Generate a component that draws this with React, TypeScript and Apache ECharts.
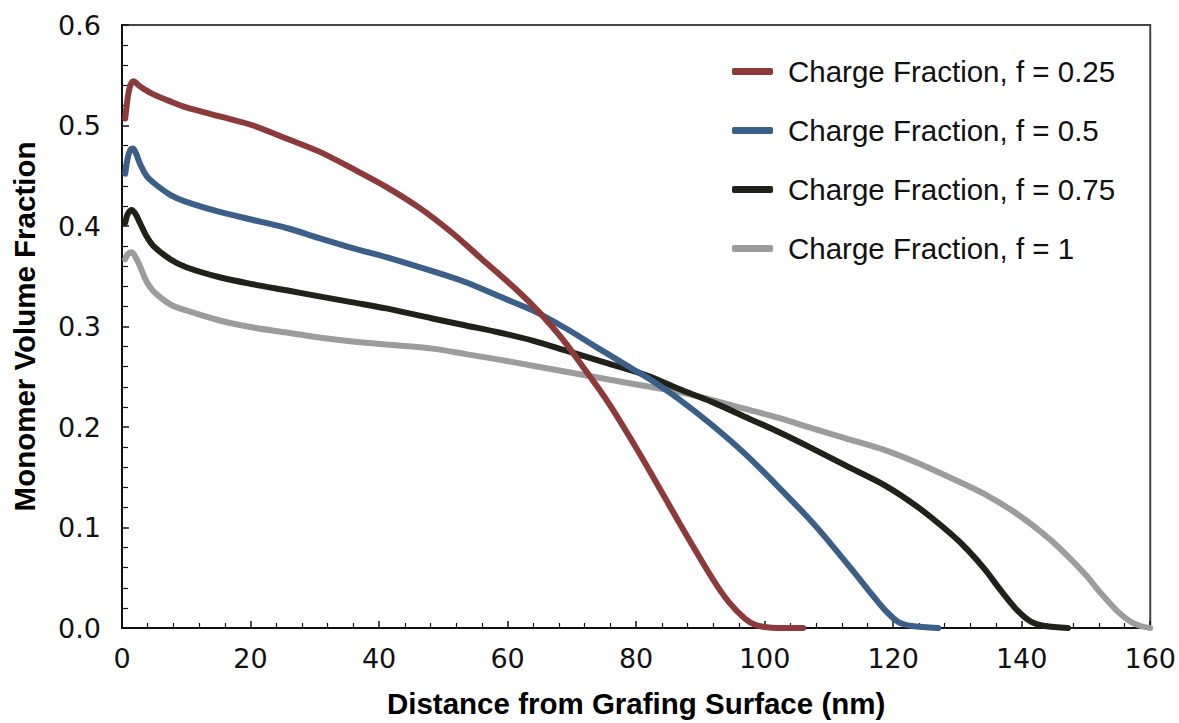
import React, { useEffect, useRef } from "react";
import * as echarts from "echarts";

// Distance from the grafting surface (nm) and monomer volume fraction, per charge fraction
const xF025 = [0.5, 0.9, 1.3, 1.8, 2.6, 3.5, 4.9, 7.5, 10, 15.2, 20.4, 25.6, 30.7, 35.9, 41.1, 46.3, 51.4, 56, 58.7, 61.3, 63.9, 66.5, 69.1, 71.6, 74.2, 76.3, 78.9, 81.5, 86.6, 91.8, 94.4, 97, 98.6, 100, 102, 106];
const yF025 = [0.507, 0.528, 0.54, 0.544, 0.54, 0.536, 0.531, 0.524, 0.518, 0.509, 0.5, 0.487, 0.474, 0.457, 0.439, 0.418, 0.393, 0.367, 0.352, 0.337, 0.321, 0.303, 0.283, 0.261, 0.238, 0.218, 0.191, 0.163, 0.106, 0.05, 0.026, 0.009, 0.003, 0.001, 0, 0];

const xF05 = [0.5, 0.9, 1.3, 1.7, 2.2, 2.8, 3.8, 4.9, 7.5, 10, 15.2, 20.4, 25.6, 30.7, 35.9, 41.1, 48.3, 53.5, 58.7, 63.9, 69.1, 74.2, 79.4, 82.5, 86.6, 91.8, 97, 102.2, 107.3, 110, 113.6, 116.1, 118.7, 120.8, 122.9, 127];
const yF05 = [0.452, 0.468, 0.476, 0.477, 0.472, 0.462, 0.45, 0.443, 0.431, 0.424, 0.414, 0.406, 0.398, 0.388, 0.378, 0.369, 0.355, 0.344, 0.33, 0.316, 0.298, 0.278, 0.258, 0.246, 0.228, 0.202, 0.173, 0.14, 0.106, 0.086, 0.058, 0.038, 0.018, 0.006, 0.002, 0];

const xF075 = [0.5, 0.9, 1.5, 2.1, 2.8, 3.8, 4.9, 7.5, 10, 15.2, 20.4, 25.6, 30.7, 35.9, 41.1, 48.3, 53.5, 58.7, 63.9, 69.1, 74.2, 79.4, 83, 86.6, 91.8, 97, 102.2, 107.3, 112.5, 118.7, 123.9, 129.1, 131.7, 134.3, 136.8, 139.4, 141.5, 143.6, 147.2];
const yF075 = [0.403, 0.412, 0.416, 0.412, 0.403, 0.39, 0.38, 0.367, 0.359, 0.349, 0.342, 0.336, 0.33, 0.324, 0.318, 0.308, 0.301, 0.294, 0.286, 0.276, 0.266, 0.256, 0.248, 0.238, 0.225, 0.21, 0.195, 0.179, 0.162, 0.142, 0.12, 0.093, 0.077, 0.058, 0.037, 0.017, 0.006, 0.002, 0];

const xF1 = [0.5, 0.9, 1.5, 2.1, 2.8, 3.8, 4.9, 7.5, 10, 15.2, 20.4, 25.6, 30.7, 35.9, 41.1, 48.3, 53.5, 58.7, 63.9, 69.1, 74.2, 79.4, 83, 86.6, 91.8, 97, 102.2, 107.3, 112.5, 118.7, 123.9, 129.1, 134.3, 139.4, 144.6, 149.8, 152.4, 155, 157, 158.5, 160];
const yF1 = [0.367, 0.372, 0.374, 0.369, 0.36, 0.345, 0.335, 0.322, 0.316, 0.306, 0.299, 0.294, 0.289, 0.285, 0.282, 0.278, 0.2725, 0.267, 0.261, 0.255, 0.249, 0.243, 0.239, 0.235, 0.227, 0.218, 0.209, 0.199, 0.189, 0.177, 0.164, 0.149, 0.133, 0.113, 0.087, 0.054, 0.034, 0.016, 0.006, 0.002, 0];

const seriesNames = [
  "Charge Fraction, f = 0.25",
  "Charge Fraction, f = 0.5",
  "Charge Fraction, f = 0.75",
  "Charge Fraction, f = 1",
];
const seriesColors = ["#8d3a3b", "#3b5f88", "#20221a", "#9c9c9c"];
const seriesX = [xF025, xF05, xF075, xF1];
const seriesY = [yF025, yF05, yF075, yF1];

const xTitle = "Distance from Grafing Surface (nm)";
const yTitle = "Monomer Volume Fraction";

const FONT = "'Liberation Sans', Arial, Helvetica, sans-serif";
const TICK_FONT = "'DejaVu Sans', 'Liberation Sans', sans-serif";

export default function App() {
  const ref = useRef<HTMLDivElement>(null);

  useEffect(() => {
    document.body.style.margin = "0";
    if (!ref.current) return;
    const chart = echarts.init(ref.current, undefined, { renderer: "svg" });

    const series = seriesNames.map((name, i) => ({
      name,
      type: "line",
      data: seriesX[i].map((x, k) => [x, seriesY[i][k]]),
      smooth: 0.3,
      symbol: "none",
      showSymbol: false,
      lineStyle: { color: seriesColors[i], width: 6, cap: "round", join: "round" },
      itemStyle: { color: seriesColors[i] },
      z: 10 - i,
    }));

    chart.setOption({
      animation: false,
      backgroundColor: "#ffffff",
      textStyle: { fontFamily: FONT },
      grid: {
        left: 122,
        right: 27,
        top: 25,
        bottom: 92,
        show: true,
        borderColor: "#444",
        borderWidth: 2,
        backgroundColor: "transparent",
      },
      legend: {
        orient: "vertical",
        left: 727,
        top: 51,
        icon: "roundRect",
        itemWidth: 41,
        itemHeight: 7,
        itemGap: 28,
        data: seriesNames,
        textStyle: {
          fontFamily: FONT,
          fontSize: 29.5,
          color: "#111",
          lineHeight: 31,
          padding: [0, 0, 0, 10],
        },
      },
      xAxis: {
        type: "value",
        min: 0,
        max: 160,
        interval: 20,
        name: xTitle,
        nameLocation: "middle",
        nameGap: 60,
        nameTextStyle: { fontFamily: FONT, fontSize: 29.5, fontWeight: "bold", color: "#000" },
        axisLine: { lineStyle: { color: "#111", width: 2 } },
        axisTick: { inside: true, length: 7, lineStyle: { color: "#111", width: 1.5 } },
        minorTick: { show: true, splitNumber: 5, length: 5, lineStyle: { color: "#111", width: 1.2 } },
        axisLabel: { fontFamily: TICK_FONT, fontSize: 27, color: "#111", margin: 17 },
        splitLine: { show: false },
      },
      yAxis: {
        type: "value",
        min: 0,
        max: 0.6,
        interval: 0.1,
        name: yTitle,
        nameLocation: "middle",
        nameGap: 83,
        nameTextStyle: { fontFamily: FONT, fontSize: 29.5, fontWeight: "bold", color: "#000" },
        axisLine: { show: true, lineStyle: { color: "#111", width: 2 } },
        axisTick: { show: true, inside: true, length: 7, lineStyle: { color: "#111", width: 1.5 } },
        minorTick: { show: true, splitNumber: 5, length: 6, lineStyle: { color: "#111", width: 1.2 } },
        axisLabel: {
          fontFamily: TICK_FONT,
          fontSize: 27,
          color: "#111",
          margin: 21,
          formatter: (v: number) => v.toFixed(1),
        },
        splitLine: { show: false },
      },
      series,
    });

    return () => chart.dispose();
  }, []);

  return (
    <div
      ref={ref}
      style={{ position: "absolute", left: 0, top: 0, width: 1179, height: 723 }}
    />
  );
}
